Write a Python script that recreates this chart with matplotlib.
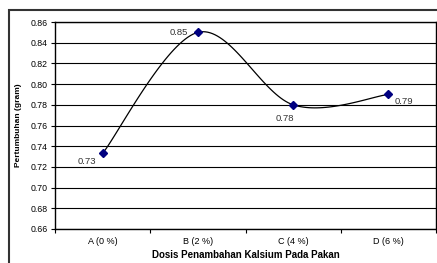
import numpy as np
import matplotlib
matplotlib.use('Agg')
import matplotlib.pyplot as plt
from matplotlib.patches import Rectangle

plt.rcParams['font.family'] = ['Liberation Sans', 'DejaVu Sans']

# data
categories = ['A (0 %)', 'B (2 %)', 'C (4 %)', 'D (6 %)']
values = [0.733, 0.850, 0.780, 0.790]
value_labels = ['0.73', '0.85', '0.78', '0.79']
yticks = np.arange(0.66, 0.8601, 0.02)


def smooth_curve(x, y, n=40):
    # Excel-style smoothed line: cubic Bezier segments through the points
    x = np.asarray(x, float)
    y = np.asarray(y, float)
    px = np.concatenate([[x[0]], x, [x[-1]]])
    py = np.concatenate([[y[0]], y, [y[-1]]])
    xs, ys = [], []
    t = np.linspace(0, 1, n)
    for i in range(1, len(px) - 2):
        p0 = np.array([px[i], py[i]])
        p3 = np.array([px[i + 1], py[i + 1]])
        c1 = p0 + (np.array([px[i + 1], py[i + 1]]) - np.array([px[i - 1], py[i - 1]])) / 6
        c2 = p3 - (np.array([px[i + 2], py[i + 2]]) - np.array([px[i], py[i]])) / 6
        b = ((1 - t) ** 3)[:, None] * p0 + (3 * (1 - t) ** 2 * t)[:, None] * c1 \
            + (3 * (1 - t) * t ** 2)[:, None] * c2 + (t ** 3)[:, None] * p3
        xs.append(b[:, 0])
        ys.append(b[:, 1])
    return np.concatenate(xs), np.concatenate(ys)


fig = plt.figure(figsize=(4.37, 2.63), dpi=100)
fig.patches.append(Rectangle((9 / 437, -0.1), 1.2, 1 - 10 / 263 + 0.1,
                             transform=fig.transFigure, fill=False,
                             edgecolor='#333333', linewidth=1.5))
ax = fig.add_axes([55 / 437, 1 - 229 / 263, (436 - 55) / 437, (229 - 22) / 263])

x = np.arange(len(categories))
sx, sy = smooth_curve(x, values)
ax.plot(sx, sy, color='black', linewidth=0.9, zorder=3)
ax.plot(x, values, linestyle='none', marker='D', markersize=4,
        color='#000080', zorder=4)

offsets = [(-11, -6), (-14, 0), (-6, -10), (11, -5)]
for xi, v, lab, (dx, dy) in zip(x, values, value_labels, offsets):
    ax.annotate(lab, (xi, v), xytext=(dx, dy), textcoords='offset points',
                ha='center', va='center', fontsize=6.8, color='#333333')

ax.set_xlim(-0.5, 3.5)
ax.set_ylim(0.66, 0.86)
ax.set_yticks(yticks)
ax.set_yticklabels([f'{t:.2f}' for t in yticks])
ax.yaxis.grid(True, color='black', linewidth=0.8)
ax.set_axisbelow(True)

ax.set_xticks(x)
ax.set_xticklabels(categories)
ax.set_xticks(np.arange(-0.5, 3.6, 1), minor=True)
ax.tick_params(axis='x', which='major', length=0, labelsize=6.5, pad=6)
ax.tick_params(axis='x', which='minor', length=3, width=0.8)
ax.tick_params(axis='y', length=3, width=0.8, labelsize=6.3, pad=2)

for sp in ax.spines.values():
    sp.set_linewidth(1.0)
    sp.set_color('black')

ax.set_xlabel('Dosis Penambahan Kalsium Pada Pakan', fontsize=7,
              fontweight='bold', labelpad=3)
ax.set_ylabel('Pertumbuhan (gram)', fontsize=6, fontweight='bold', labelpad=6)

fig.savefig('out.png', dpi=100)
